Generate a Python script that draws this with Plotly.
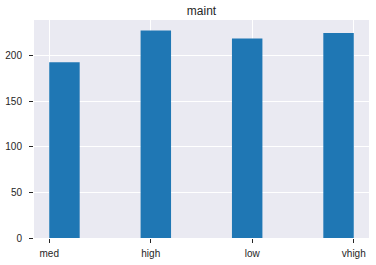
import numpy as np
import plotly.graph_objects as go

categories = ["med", "high", "low", "vhigh"]
counts = [193, 228, 219, 225]
y_ticks = [0, 50, 100, 150, 200]
title = "maint"

# matplotlib-style histogram of categorical codes with 10 bins
codes = np.repeat(np.arange(len(categories)), counts)
hist, edges = np.histogram(codes, bins=10)
centers = (edges[:-1] + edges[1:]) / 2
width = edges[1] - edges[0]
mask = hist > 0

fig = go.Figure(go.Bar(
    x=centers[mask], y=hist[mask], width=width,
    marker=dict(color="#1f77b4", line=dict(width=0)),
    hoverinfo="skip",
))

xmin, xmax = edges[0], edges[-1]
pad = (xmax - xmin) * 0.05
ymax = max(hist) * 1.05

fig.update_layout(
    width=376, height=265,
    margin=dict(l=34, r=7, t=20, b=27),
    paper_bgcolor="white", plot_bgcolor="#EAEAF2",
    showlegend=False,
    font=dict(family="Liberation Sans, Arial, sans-serif", size=10, color="#262626"),
    title=dict(text=title, x=(34 + 369) / 2 / 376, xanchor="center",
               y=1 - 11 / 265, yanchor="middle",
               font=dict(size=12, color="#262626")),
)
fig.update_xaxes(
    range=[xmin - pad, xmax + pad],
    tickvals=list(range(len(categories))), ticktext=categories,
    showgrid=True, gridcolor="white", gridwidth=1,
    zeroline=False, showline=False,
    ticks="outside", ticklen=4, tickcolor="#262626", tickwidth=1,
    ticklabelstandoff=2, automargin=False,
)
fig.update_yaxes(
    range=[0, ymax], tickvals=y_ticks,
    showgrid=True, gridcolor="white", gridwidth=1,
    zeroline=False, showline=False,
    ticks="outside", ticklen=4, tickcolor="#262626", tickwidth=1,
    ticklabelstandoff=5, automargin=False,
)

fig.write_html("out.html")
